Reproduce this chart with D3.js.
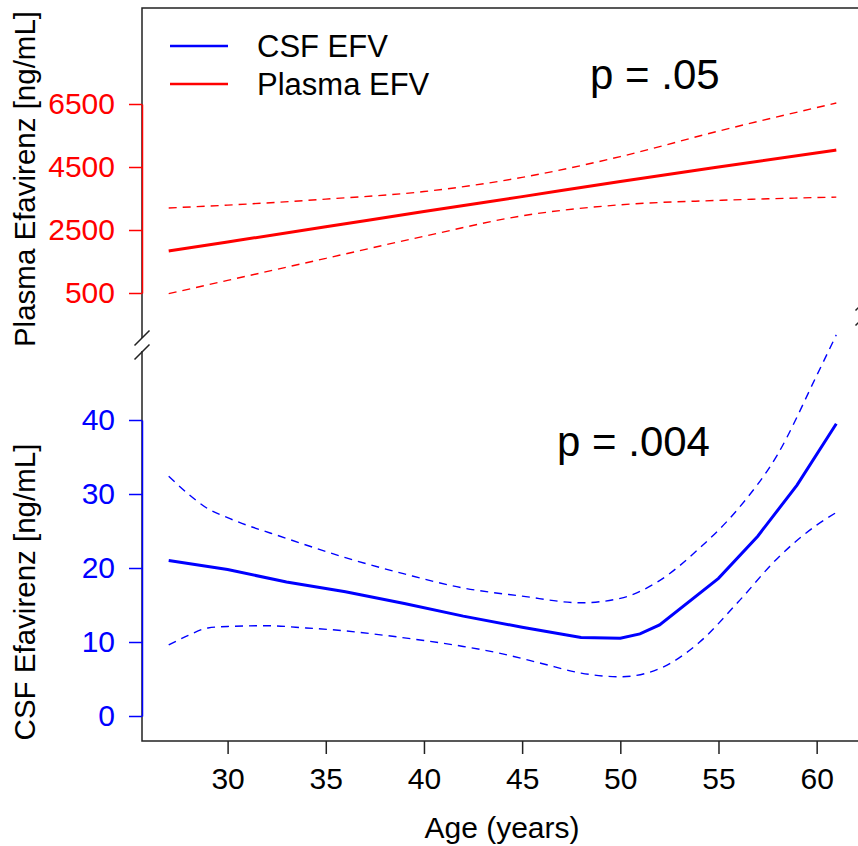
<!DOCTYPE html>
<html lang="en">
<head>
<meta charset="UTF-8" />
<title>CSF and Plasma Efavirenz by Age</title>
<script src="https://d3js.org/d3.v7.min.js"></script>
<style>
  body {
    margin: 0;
    background: #fff;
  }
  svg {
    display: block;
    font-family: "Liberation Sans", Arial, Helvetica, sans-serif;
  }
  .frame {
    stroke: #222;
    stroke-width: 1.5px;
    fill: none;
  }
  .ci {
    fill: none;
    stroke-width: 1.4px;
    stroke-dasharray: 8 6;
  }
  .fit {
    fill: none;
    stroke-width: 3px;
  }
</style>
</head>
<body>

<svg width="858" height="846"></svg>

<script>
  const width = 858, height = 846;

  // plasma efavirenz (ng/mL), linear fit with 95% band
  const plasmaAge = [27, 30, 35, 40, 45, 50, 55, 61];
  const plasmaFit = [1833, 2120, 2600, 3085, 3560, 4040, 4500, 5040];
  const plasmaUpper = [3200, 3290, 3480, 3720, 4170, 4830, 5640, 6530];
  const plasmaLower = [480, 900, 1600, 2300, 2950, 3300, 3440, 3545];

  // CSF efavirenz (ng/mL), spline fit with 95% band
  const csfAge = [27, 30, 33, 36, 39, 42, 45, 48, 50, 51, 52, 55, 57, 59, 61];
  const csfFit = [21.0, 19.8, 18.1, 16.8, 15.2, 13.5, 12.0, 10.6, 10.5, 11.1, 12.3, 18.6, 24.3, 31.2, 39.5];
  const csfBandAge = [27, 28, 29, 30, 33, 36, 39, 42, 45, 48, 50, 52, 54, 56, 58, 60, 61];
  const csfUpper = [32.4, 30.0, 28.0, 26.8, 24.0, 21.4, 19.2, 17.3, 16.2, 15.3, 15.9, 18.3, 22.6, 28.0, 35.3, 46.0, 51.5];
  const csfLowerAge = [27, 28, 29, 30, 32, 34, 36, 38, 40, 42, 44, 46, 48, 50, 52, 54, 56, 58, 60, 61];
  const csfLower = [9.6, 10.9, 11.9, 12.1, 12.2, 11.9, 11.5, 10.9, 10.2, 9.4, 8.4, 7.1, 5.8, 5.3, 6.4, 9.9, 15.4, 21.3, 25.8, 27.5];

  const ageTicks = [30, 35, 40, 45, 50, 55, 60];
  const plasmaTicks = [500, 2500, 4500, 6500];
  const csfTicks = [0, 10, 20, 30, 40];

  const plotLeft = 142, plotRight = 863, plotTop = 8, plotBottom = 741;

  const x = d3.scaleLinear().domain([25.64, 62.36]).range([plotLeft, plotRight]);
  const yPlasma = d3.scaleLinear().domain([500, 6500]).range([293, 104]);
  const yCsf = d3.scaleLinear().domain([0, 40]).range([716, 420]);

  const svg = d3.select("svg");

  // frame: top, bottom, left axis with a gap
  svg.append("path").attr("class", "frame")
    .attr("d", `M${width},${plotTop}H${plotLeft}V338M${plotLeft},351V${plotBottom}H${width}`);

  // break marks
  const brk = (cx, cy) => `M${cx - 7.5},${cy + 7.5}L${cx + 7.5},${cy - 7.5}`;
  svg.append("path").attr("class", "frame").attr("stroke-width", 1.2)
    .attr("d", brk(plotLeft, 338) + brk(plotLeft, 352));
  svg.append("path").attr("class", "frame").attr("stroke-width", 1.2)
    .attr("d", brk(plotRight, 303) + brk(plotRight, 318));

  function styleAxis(g, color) {
    g.selectAll("text")
      .attr("fill", color)
      .style("font-size", "30px")
      .style("font-family", "'Liberation Sans', Arial, sans-serif");
    g.selectAll("line").attr("stroke", color).attr("stroke-width", 1.5);
    g.select(".domain").attr("stroke", color).attr("stroke-width", 1.5);
  }

  const fmt = d3.format("d");

  svg.append("g")
    .attr("transform", `translate(${plotLeft},0)`)
    .call(d3.axisLeft(yPlasma).tickValues(plasmaTicks).tickFormat(fmt)
      .tickSize(13).tickSizeOuter(0).tickPadding(14))
    .call(g => styleAxis(g, "#ff0000"));

  svg.append("g")
    .attr("transform", `translate(${plotLeft},0)`)
    .call(d3.axisLeft(yCsf).tickValues(csfTicks).tickFormat(fmt)
      .tickSize(13).tickSizeOuter(0).tickPadding(14))
    .call(g => styleAxis(g, "#0000ff"));

  const xg = svg.append("g")
    .attr("transform", `translate(0,${plotBottom})`)
    .call(d3.axisBottom(x).tickValues(ageTicks).tickFormat(fmt)
      .tickSize(13).tickSizeOuter(0).tickPadding(14));
  xg.select(".domain").remove();
  styleAxis(xg, "#000");
  xg.selectAll("line").attr("stroke", "#222");

  // axis titles
  svg.append("text")
    .attr("transform", "translate(35,179) rotate(-90)")
    .attr("text-anchor", "middle")
    .style("font-size", "29.5px")
    .text("Plasma Efavirenz [ng/mL]");
  svg.append("text")
    .attr("transform", "translate(35,592) rotate(-90)")
    .attr("text-anchor", "middle")
    .style("font-size", "29.5px")
    .text("CSF Efavirenz [ng/mL]");
  svg.append("text")
    .attr("x", 502).attr("y", 838)
    .attr("text-anchor", "middle")
    .style("font-size", "30px")
    .text("Age (years)");

  const line = (ages, vals, y, curve) => d3.line()
    .x((d, i) => x(ages[i]))
    .y(d => y(d))
    .curve(curve)(vals);

  // plasma
  svg.append("path").attr("class", "ci").attr("stroke", "#ff0000")
    .attr("d", line(plasmaAge, plasmaUpper, yPlasma, d3.curveMonotoneX));
  svg.append("path").attr("class", "ci").attr("stroke", "#ff0000")
    .attr("d", line(plasmaAge, plasmaLower, yPlasma, d3.curveMonotoneX));
  svg.append("path").attr("class", "fit").attr("stroke", "#ff0000")
    .attr("d", line(plasmaAge, plasmaFit, yPlasma, d3.curveMonotoneX));

  // csf
  svg.append("path").attr("class", "ci").attr("stroke", "#0000ff")
    .attr("d", line(csfBandAge, csfUpper, yCsf, d3.curveMonotoneX));
  svg.append("path").attr("class", "ci").attr("stroke", "#0000ff")
    .attr("d", line(csfLowerAge, csfLower, yCsf, d3.curveMonotoneX));
  svg.append("path").attr("class", "fit").attr("stroke", "#0000ff")
    .attr("d", line(csfAge, csfFit, yCsf, d3.curveLinear));

  // legend
  const legend = [["CSF EFV", "#0000ff"], ["Plasma EFV", "#ff0000"]];
  legend.forEach(([name, color], i) => {
    const ly = 46 + i * 38;
    svg.append("line")
      .attr("x1", 170).attr("x2", 228).attr("y1", ly).attr("y2", ly)
      .attr("stroke", color).attr("stroke-width", 2.5);
    svg.append("text")
      .attr("x", 257).attr("y", ly + 11)
      .style("font-size", "31px")
      .text(name);
  });

  // p-values
  svg.append("text").attr("x", 590).attr("y", 89)
    .style("font-size", "42px").text("p = .05");
  svg.append("text").attr("x", 557).attr("y", 456)
    .style("font-size", "42px").text("p = .004");
</script>

</body>
</html>
